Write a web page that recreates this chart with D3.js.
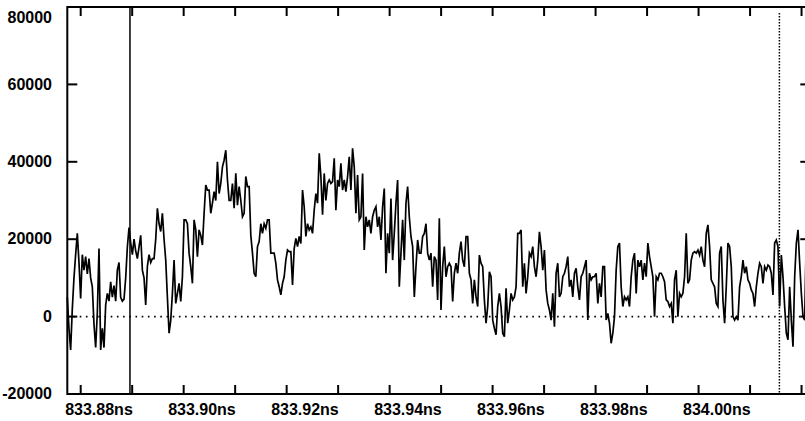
<!DOCTYPE html>
<html>
<head>
<meta charset="utf-8">
<script src="https://cdn.jsdelivr.net/npm/d3@7"></script>
<style>
  body { margin: 0; background: #fff; }
  svg text { font-family: "Liberation Sans", Arial, sans-serif; font-weight: bold; font-size: 16px; fill: #000; }
</style>
</head>
<body>
<div id="chart"></div>
<script>
// axis values
var yTicks = [-20, 0, 20, 40, 60, 80]           // thousands
var xTicks = [833.88, 833.89, 833.90, 833.91, 833.92, 833.93, 833.94, 833.95,
              833.96, 833.97, 833.98, 833.99, 834.00, 834.01, 834.02]
var xLabels = [833.88, 833.90, 833.92, 833.94, 833.96, 833.98, 834.00]

// cursors (ns)
var cursorSolid = 833.88957
var cursorDotted = 834.0157

// sampled trace: start time, sample step (ns), amplitude in thousands
var t0 = 833.8774
var dt = 0.000324
var signal = [
  5, -3, -8.6, 2, 10, 16, 21.5, 14, 4.7, 16, 12, 15.5, 11, 15, 10, 7.7, -2, -8, 1, 17.6,
  -8.6, -3, -8, 3, 6, 4, 9, 5, 8, 4, 12, 14, 5, 4, 4.5, 10, 18, 23, 19, 16,
  20, 17, 15, 18, 21, 12, 10, 3, 13, 16, 14, 15, 15, 20, 28, 24, 22, 26.7, 20, 14.6,
  5, -4.3, -1, 6, 14.6, 3.4, 6, 8.6,
  3.9, 10.3, 25, 25, 24, 16.4, 12.9, 8.6, 25, 22.4, 15.5, 22.4, 21, 18.5, 26.7, 34, 32.7, 32.7, 26.7, 29.3,
  32.3, 30, 40, 31.8, 34.4, 38.7, 40.4, 43, 35.3, 30, 30, 34.4, 28, 37, 28.8, 33.6, 30, 25.8, 26.7, 36.2,
  33.6, 33.6, 21, 16.4, 11.2, 10.3, 18.1, 19.4, 24, 21.5, 24, 22.8, 25, 25, 16.4, 16.4, 16.4, 13.8, 9.5, 7.7,
  5.6, 8.6, 10.3, 14.6, 17.2, 16.8, 16.8, 8.2, 17.6, 20.2, 18.1, 20.7,
  18.9, 32.7, 28.4, 20.7, 24, 22.4, 23.2, 21.5, 27.5, 31.8, 29.3, 42.2, 36.2, 26.3, 37, 30, 34.4, 35.3, 34.4, 34.9,
  40.9, 27.5, 35.3, 33.6, 39.6, 32.7, 35.3, 32.3, 36.2, 41.3, 32.7, 43.5, 38.7, 26.7, 36.6, 25, 25.8, 37, 17.2, 25.8,
  23.2, 25, 21.5, 25.8, 27.5, 28.4, 23.2, 25.8, 19.8, 28.4, 33.1, 11.2, 21.5, 16.4, 30.5, 14.6, 21.5, 29.3, 35.3, 7.7,
  16.4, 25, 14.6, 29.3, 33.6, 25.8, 20.7, 18.1, 5.1, 12.9, 19.8, 16.4,
  16.4, 20.7, 21.5, 24, 16.4, 14.6, 16.4, 7.7, 15.5, 14.6, 4.3, 25.4, 1.7, 12.9, 18.1, 10.3, 12.9, 13.8, 12.9, 3.9,
  11.2, 13.8, 11.2, 16.4, 19.4, 14.6, 12.9, 20.7, 20.7, 11.2, 9.5, 3.4, 9.5, 5.1, 2.6, 15.9, 13.8, 12.9, 4.3, -1.7,
  2.6, 11.6, 10.3, -0.9, -3, -4.7, 2.6, 6, 2.6, -4.3, -5.2, 7.3, -1.7, 1.7, 6, 4.3, 5.1, 7.7, 21.5, 21.5,
  22.4, 7.7, 13.8, 6, 10.3, 16.4, 15.5, 18.1, 12.9, 10.3, 14.6, 21.9,
  18.1, 12, 17.2, 6.9, 3.4, 1.7, -0.9, 6, -2.6, 11.2, 13.8, 5.1, 6, 10.3, 11.2, 12.9, 15.5, 7.7, 9.5, 5.1,
  11.2, 12.5, 7.7, 4.3, 10.3, 11.2, 12.9, 14.6, -0.9, 11.2, 9.5, 10.3, 10.3, 11.2, 3.4, 8.6, 5.1, 12.9, 12.9, -0.9,
  0.8, -1.7, -6.9, -4.3, 0, 12, 18.1, 19, 7.7, 2.6, 5.1, 4.3, 5.1, 2.6, 10.3, 14.6, 16.4, 6, 14.6, 12.9,
  14.6, 9.5, 13.8, 10.3, 19, 15.5, 12.9, 10.3, 0, 10.3, 9.5, 11.2,
  11.2, 10.3, 9, 4.3, 3.9, 2.6, 3.4, -1.7, 9.5, 12, 0, 6, 5.1, 6, 10.3, 21.5, 8.6, 9.5, 14.6, 16.4,
  16.8, 16.4, 17.2, 15.9, 18.1, 14.6, 12.9, 21.5, 23.7, 18.1, 9.5, 8.6, 7.7, 3.4, 2.6, 16.4, 18.1, 4.3, -1.7, 7.7,
  19, 18.1, 12.9, 0, -0.9, 0, -0.9, 7.7, 10.3, 14.6, 11.2, 12.9, 9.5, 8.6, 6.9, 6, 2.6, 7.7, 11.2, 13.8,
  12.9, 8.6, 12.9, 12, 13.3, 12.9, 11.2, 5.6, 19, 19.8, 18.1, 2.6, 15.9, 10.3, 2.6, -4.3, -6, 7.7, -0.9, -7.8,
  10.3, 19, 22.4, 13.8, 6, 0, -0.9, 21.5
]

var width = 805, height = 421
var plotLeft = 67.3, plotRight = 810.3, plotTop = 7, plotBottom = 394

var svg = d3.select('#chart')
            .append('svg')
            .attr('width', width)
            .attr('height', height)

var x = d3.scaleLinear()
          .domain([833.8774, 834.0217])
          .range([plotLeft, plotRight])
var y = d3.scaleLinear()
          .domain([-20, 80])
          .range([plotBottom, plotTop])

// zero line
svg.append('line')
    .attr('x1', plotLeft).attr('x2', plotRight)
    .attr('y1', y(0)).attr('y2', y(0))
    .attr('stroke', 'black')
    .attr('stroke-width', 1.6)
    .attr('stroke-dasharray', '1.6,4.6')

// trace
var line = d3.line()
             .x(function(d, i){ return x(t0 + i * dt) })
             .y(function(d){ return y(d) })
svg.append('path')
    .datum(signal)
    .attr('d', line)
    .attr('fill', 'none')
    .attr('stroke', 'black')
    .attr('stroke-width', 1.7)
    .attr('stroke-linejoin', 'miter')

// cursors
svg.append('line')
    .attr('x1', x(cursorSolid)).attr('x2', x(cursorSolid))
    .attr('y1', plotTop).attr('y2', plotBottom)
    .attr('stroke', 'black')
    .attr('stroke-width', 1.5)
svg.append('line')
    .attr('x1', x(cursorDotted)).attr('x2', x(cursorDotted))
    .attr('y1', plotTop + 6).attr('y2', plotBottom)
    .attr('stroke', 'black')
    .attr('stroke-width', 1.5)
    .attr('stroke-dasharray', '1.5,1.5')

// frame
svg.append('rect')
    .attr('x', plotLeft).attr('y', plotTop)
    .attr('width', plotRight - plotLeft)
    .attr('height', plotBottom - plotTop)
    .attr('fill', 'none')
    .attr('stroke', 'black')
    .attr('stroke-width', 2)

// x ticks, top and bottom, pointing inward
svg.selectAll('line.xtop')
    .data(xTicks).enter()
    .append('line')
    .attr('class', 'xtop')
    .attr('x1', function(d){ return x(d) }).attr('x2', function(d){ return x(d) })
    .attr('y1', plotTop).attr('y2', plotTop + 9)
    .attr('stroke', 'black').attr('stroke-width', 2)
svg.selectAll('line.xbot')
    .data(xTicks).enter()
    .append('line')
    .attr('class', 'xbot')
    .attr('x1', function(d){ return x(d) }).attr('x2', function(d){ return x(d) })
    .attr('y1', plotBottom).attr('y2', plotBottom - 9)
    .attr('stroke', 'black').attr('stroke-width', 2)

// y ticks, left and right
svg.selectAll('line.yleft')
    .data(yTicks).enter()
    .append('line')
    .attr('class', 'yleft')
    .attr('x1', plotLeft).attr('x2', plotLeft + 10)
    .attr('y1', function(d){ return y(d) }).attr('y2', function(d){ return y(d) })
    .attr('stroke', 'black').attr('stroke-width', 2)
svg.selectAll('line.yright')
    .data(yTicks).enter()
    .append('line')
    .attr('class', 'yright')
    .attr('x1', plotRight).attr('x2', plotRight - 10)
    .attr('y1', function(d){ return y(d) }).attr('y2', function(d){ return y(d) })
    .attr('stroke', 'black').attr('stroke-width', 2)

// labels
svg.selectAll('text.ylab')
    .data(yTicks).enter()
    .append('text')
    .attr('class', 'ylab')
    .attr('x', 52)
    .attr('y', function(d){ return Math.max(y(d), 18) + 1 })
    .attr('text-anchor', 'end')
    .attr('dominant-baseline', 'middle')
    .text(function(d){ return d * 1000 })

svg.selectAll('text.xlab')
    .data(xLabels).enter()
    .append('text')
    .attr('class', 'xlab')
    .attr('x', function(d){ return x(d) - 15.5 })
    .attr('y', 415)
    .attr('text-anchor', 'start')
    .text(function(d){ return d.toFixed(2) + 'ns' })
</script>
</body>
</html>
